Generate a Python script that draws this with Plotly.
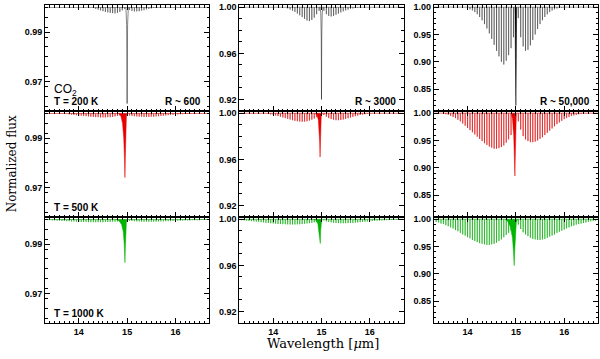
import plotly.graph_objects as go
from plotly.subplots import make_subplots


# spectral coverage of the models (micron)
wl_min = 13.3
wl_max = 16.7

# line centres of the R branch (short side) and P branch (long side)
r_branch_wl = [13.35, 13.40, 13.45, 13.50, 13.55, 13.60, 13.65, 13.70, 13.75, 13.80, 13.85,
               13.90, 13.95, 14.00, 14.05, 14.10, 14.15, 14.20, 14.25, 14.30, 14.35, 14.40,
               14.45, 14.50, 14.55, 14.60, 14.65, 14.70, 14.75, 14.80, 14.85, 14.90, 14.95]
p_branch_wl = [15.05, 15.10, 15.15, 15.20, 15.25, 15.30, 15.35, 15.40, 15.45, 15.50, 15.55,
               15.60, 15.65, 15.70, 15.75, 15.80, 15.85, 15.90, 15.95, 16.00, 16.05, 16.10,
               16.15, 16.20, 16.25, 16.30, 16.35, 16.40, 16.45, 16.50, 16.55, 16.60, 16.65]

# line absorption in percent (R branch values then P branch values)
absorb_600_200 = [0, 0, 0, 0, 0, 0, 0, 0, 0, 0, 0, 0, 0, 0, 0, 0, 0, 0, 0,
                  0.03, 0.06, 0.09, 0.12, 0.15, 0.18, 0.2, 0.22, 0.23, 0.24, 0.22, 0.18, 0.12, 0.06,
                  0.1, 0.14, 0.16, 0.16, 0.15, 0.13, 0.11, 0.08, 0.06, 0.04, 0.02, 0.01,
                  0, 0, 0, 0, 0, 0, 0, 0, 0, 0, 0, 0, 0, 0, 0, 0, 0, 0, 0, 0, 0]
absorb_600_500 = [0, 0, 0, 0, 0, 0, 0,
                  0.02, 0.03, 0.04, 0.05, 0.06, 0.07, 0.08, 0.09, 0.1, 0.11, 0.12, 0.13, 0.14,
                  0.15, 0.15, 0.16, 0.16, 0.16, 0.15, 0.15, 0.14, 0.12, 0.1, 0.08, 0.06, 0.04,
                  0.08, 0.1, 0.11, 0.12, 0.13, 0.13, 0.14, 0.14, 0.14, 0.13, 0.13, 0.12, 0.11,
                  0.1, 0.09, 0.08, 0.07, 0.06, 0.05, 0.04, 0.04, 0.03, 0.03, 0.02, 0.02, 0.01,
                  0.01, 0.01, 0, 0, 0, 0, 0]
absorb_600_1000 = [0.03, 0.03, 0.04, 0.04, 0.05, 0.05, 0.06, 0.06, 0.07, 0.07, 0.08, 0.08,
                   0.09, 0.09, 0.1, 0.1, 0.1, 0.11, 0.11, 0.11, 0.11, 0.11, 0.11, 0.11, 0.1,
                   0.1, 0.1, 0.09, 0.09, 0.08, 0.07, 0.06, 0.05,
                   0.05, 0.06, 0.07, 0.08, 0.08, 0.09, 0.09, 0.09, 0.09, 0.09, 0.09, 0.09,
                   0.08, 0.08, 0.08, 0.07, 0.07, 0.07, 0.06, 0.06, 0.05, 0.05, 0.05, 0.04,
                   0.04, 0.04, 0.03, 0.03, 0.03, 0.03, 0.02, 0.02, 0.02]

absorb_3000_200 = [0, 0, 0, 0, 0, 0, 0, 0, 0, 0, 0, 0, 0, 0, 0, 0, 0, 0,
                   0.05, 0.1, 0.2, 0.3, 0.4, 0.55, 0.7, 0.85, 1.0, 1.15, 1.2, 1.1, 0.9, 0.6, 0.3,
                   0.3, 0.6, 0.75, 0.8, 0.75, 0.65, 0.55, 0.45, 0.35, 0.27, 0.2, 0.14, 0.1,
                   0.06, 0.04, 0.02,
                   0, 0, 0, 0, 0, 0, 0, 0, 0, 0, 0, 0, 0, 0, 0, 0, 0]
absorb_3000_500 = [0, 0, 0, 0, 0, 0, 0, 0, 0, 0,
                   0.03, 0.06, 0.1, 0.14, 0.19, 0.24, 0.3, 0.36, 0.42, 0.48, 0.54, 0.6, 0.65,
                   0.69, 0.72, 0.73, 0.72, 0.69, 0.63, 0.55, 0.45, 0.33, 0.2,
                   0.15, 0.3, 0.42, 0.5, 0.56, 0.6, 0.6, 0.58, 0.54, 0.49, 0.43, 0.37, 0.31,
                   0.25, 0.2, 0.15, 0.11, 0.08, 0.05, 0.03, 0.02,
                   0, 0, 0, 0, 0, 0, 0, 0, 0, 0, 0, 0]
absorb_3000_1000 = [0.08, 0.1, 0.12, 0.14, 0.16, 0.18, 0.2, 0.22, 0.25, 0.27, 0.3, 0.32,
                    0.34, 0.36, 0.38, 0.4, 0.41, 0.42, 0.43, 0.44, 0.45, 0.45, 0.45, 0.44,
                    0.43, 0.41, 0.39, 0.36, 0.33, 0.3, 0.26, 0.22, 0.18,
                    0.1, 0.18, 0.23, 0.27, 0.3, 0.32, 0.33, 0.34, 0.34, 0.34, 0.33, 0.32,
                    0.31, 0.29, 0.27, 0.25, 0.23, 0.21, 0.19, 0.17, 0.15, 0.14, 0.12, 0.11,
                    0.1, 0.09, 0.08, 0.07, 0.06, 0.05, 0.05, 0.04, 0.04]

absorb_50000_200 = [0, 0, 0, 0, 0, 0, 0, 0, 0, 0, 0, 0, 0.1,
                    0.2, 0.4, 0.6, 0.9, 1.3, 1.8, 2.4, 3.1, 3.9, 4.8, 5.8, 6.9, 8.0, 9.0,
                    10.0, 10.5, 9.8, 8.8, 7.5, 5.5,
                    2.0, 5.5, 7.2, 8.0, 7.8, 7.0, 6.0, 5.0, 4.0, 3.1, 2.4, 1.8, 1.3, 0.9,
                    0.6, 0.4, 0.25, 0.15, 0.1, 0.05,
                    0, 0, 0, 0, 0, 0, 0, 0, 0, 0, 0, 0, 0]
absorb_50000_500 = [0, 0, 0, 0.1, 0.2, 0.3, 0.5, 0.7, 0.9, 1.2, 1.5, 1.9, 2.3, 2.7, 3.1,
                    3.5, 3.9, 4.3, 4.7, 5.1, 5.5, 5.8, 6.1, 6.3, 6.5, 6.5, 6.4, 6.2, 5.9,
                    5.4, 4.8, 4.0, 3.0,
                    1.5, 3.0, 4.2, 4.8, 5.1, 5.3, 5.3, 5.2, 5.0, 4.7, 4.4, 4.0, 3.6, 3.2,
                    2.8, 2.4, 2.0, 1.7, 1.4, 1.1, 0.9, 0.7, 0.5, 0.4, 0.3, 0.2, 0.15, 0.1,
                    0.05, 0, 0, 0, 0]
absorb_50000_1000 = [0.5, 0.6, 0.8, 0.9, 1.1, 1.3, 1.5, 1.7, 2.0, 2.2, 2.5, 2.8, 3.0, 3.3,
                     3.5, 3.8, 4.0, 4.2, 4.4, 4.5, 4.6, 4.7, 4.7, 4.6, 4.5, 4.3, 4.0, 3.7,
                     3.3, 2.9, 2.5, 2.1, 1.7,
                     1.0, 1.8, 2.4, 2.8, 3.1, 3.4, 3.6, 3.7, 3.8, 3.8, 3.7, 3.6, 3.4, 3.2,
                     3.0, 2.8, 2.5, 2.3, 2.1, 1.9, 1.7, 1.5, 1.3, 1.2, 1.0, 0.9, 0.8, 0.7,
                     0.6, 0.5, 0.4, 0.3, 0.3]

# Q branch profiles near 15 micron (wavelength, normalized flux)
q_wl_600_200 = [14.975, 14.99, 14.997, 15.0, 15.003, 15.01, 15.025]
q_fx_600_200 = [1.0, 0.993, 0.975, 0.961, 0.975, 0.993, 1.0]
q_wl_600_500 = [14.82, 14.87, 14.905, 14.93, 14.945, 14.955, 14.963, 14.972, 14.985, 15.0]
q_fx_600_500 = [1.0, 0.999, 0.996, 0.99, 0.982, 0.974, 0.982, 0.993, 0.999, 1.0]
q_wl_600_1000 = [14.77, 14.83, 14.885, 14.92, 14.94, 14.955, 14.963, 14.972, 14.985, 15.0]
q_fx_600_1000 = [1.0, 0.9995, 0.998, 0.995, 0.99, 0.9825, 0.988, 0.996, 0.999, 1.0]

q_wl_3000_200 = [14.97, 14.985, 14.995, 15.0, 15.005, 15.015, 15.03]
q_fx_3000_200 = [1.0, 0.995, 0.975, 0.92, 0.975, 0.995, 1.0]
q_wl_3000_500 = [14.87, 14.91, 14.935, 14.952, 14.962, 14.97, 14.978, 14.986, 14.995, 15.01]
q_fx_3000_500 = [1.0, 0.998, 0.994, 0.985, 0.975, 0.962, 0.975, 0.99, 0.998, 1.0]
q_wl_3000_1000 = [14.83, 14.89, 14.925, 14.948, 14.962, 14.975, 14.983, 14.992, 15.005]
q_fx_3000_1000 = [1.0, 0.999, 0.996, 0.99, 0.983, 0.979, 0.99, 0.998, 1.0]

q_wl_50000_200 = [14.98, 14.984, 14.993, 14.998, 15.0, 15.003, 15.008, 15.016]
q_fx_50000_200 = [1.0, 0.96, 0.9, 0.85, 0.82, 0.85, 0.9, 1.0]
q_wl_50000_500 = [14.90, 14.93, 14.955, 14.97, 14.98, 14.99, 15.0, 15.01]
q_fx_50000_500 = [1.0, 0.99, 0.96, 0.92, 0.885, 0.93, 0.975, 1.0]
q_wl_50000_1000 = [14.78, 14.84, 14.89, 14.93, 14.95, 14.965, 14.975, 14.99, 15.01, 15.04]
q_fx_50000_1000 = [1.0, 0.995, 0.985, 0.965, 0.94, 0.915, 0.94, 0.975, 0.995, 1.0]

temps = [200, 500, 1000]
resolutions = ["600", "3000", "50,000"]

line_wl = r_branch_wl + p_branch_wl

absorb = {
    (200, 0): absorb_600_200, (500, 0): absorb_600_500, (1000, 0): absorb_600_1000,
    (200, 1): absorb_3000_200, (500, 1): absorb_3000_500, (1000, 1): absorb_3000_1000,
    (200, 2): absorb_50000_200, (500, 2): absorb_50000_500, (1000, 2): absorb_50000_1000,
}
q_branch = {
    (200, 0): (q_wl_600_200, q_fx_600_200), (500, 0): (q_wl_600_500, q_fx_600_500),
    (1000, 0): (q_wl_600_1000, q_fx_600_1000),
    (200, 1): (q_wl_3000_200, q_fx_3000_200), (500, 1): (q_wl_3000_500, q_fx_3000_500),
    (1000, 1): (q_wl_3000_1000, q_fx_3000_1000),
    (200, 2): (q_wl_50000_200, q_fx_50000_200), (500, 2): (q_wl_50000_500, q_fx_50000_500),
    (1000, 2): (q_wl_50000_1000, q_fx_50000_1000),
}

colors = {200: "black", 500: "#e80000", 1000: "#00b400"}
hatch_colors = {200: "rgba(0,0,0,0.5)", 500: "rgba(220,0,0,0.75)", 1000: "rgba(0,170,0,0.75)"}

y_axes = [
    dict(range=[0.958, 1.001], tick0=0.97, dtick=0.02, minor=0.004),
    dict(range=[0.910, 1.002], tick0=0.92, dtick=0.04, minor=0.01),
    dict(range=[0.810, 1.004], tick0=0.85, dtick=0.05, minor=0.01),
]

fig = make_subplots(rows=3, cols=3, horizontal_spacing=0.0545, vertical_spacing=0)

for r, T in enumerate(temps):
    for c in range(3):

        xs = [wl_min]
        ys = [1.0]
        for w, a in zip(line_wl, absorb[(T, c)]):
            xs += [w, w, w]
            ys += [1.0, 1.0 - a / 100.0, 1.0]
        xs.append(wl_max)
        ys.append(1.0)

        fig.add_trace(
            go.Scatter(
                x=xs,
                y=ys,
                mode="lines",
                line=dict(color=hatch_colors[T], width=0.8),
                showlegend=False
            ),
            row=r + 1, col=c + 1
        )

        # the cold low-resolution Q branch is a thin grey line, the others are filled
        qx, qy = q_branch[(T, c)]
        thin = (T == 200 and c < 2)
        fig.add_trace(
            go.Scatter(
                x=qx,
                y=qy,
                mode="lines",
                fill=None if thin else "toself",
                fillcolor=colors[T],
                line=dict(color="rgba(0,0,0,0.6)" if thin else colors[T], width=0.8 if thin else 0.5),
                showlegend=False
            ),
            row=r + 1, col=c + 1
        )

        fig.update_xaxes(
            range=[wl_min, wl_max],
            dtick=1,
            ticks="inside",
            ticklen=5,
            tickcolor="black",
            minor=dict(ticks="inside", dtick=0.1, ticklen=2.5, tickcolor="black"),
            showline=True,
            linecolor="black",
            linewidth=1,
            mirror="allticks",
            showgrid=False,
            zeroline=False,
            showticklabels=(r == 2),
            tickfont=dict(family="Liberation Sans", size=9, color="black", weight="bold"),
            row=r + 1, col=c + 1
        )

        ya = y_axes[c]
        fig.update_yaxes(
            range=ya["range"],
            tick0=ya["tick0"],
            dtick=ya["dtick"],
            tickformat=".2f",
            ticks="inside",
            ticklen=5,
            tickcolor="black",
            minor=dict(ticks="inside", dtick=ya["minor"], ticklen=2.5, tickcolor="black"),
            showline=True,
            linecolor="black",
            linewidth=1,
            mirror="allticks",
            showgrid=False,
            zeroline=False,
            tickfont=dict(family="Liberation Sans", size=9, color="black", weight="bold"),
            row=r + 1, col=c + 1
        )

label_font = dict(family="Liberation Sans", size=10, color="black", weight="bold")

annotations = []
for r, T in enumerate(temps):
    n = r * 3 + 1
    annotations.append(dict(
        text="T = %d K" % T, xref="x%d domain" % n if n > 1 else "x domain",
        yref="y%d domain" % n if n > 1 else "y domain",
        x=0.04, y=0.085, xanchor="left", yanchor="middle", showarrow=False, font=label_font
    ))
for c, res in enumerate(resolutions):
    n = c + 1
    annotations.append(dict(
        text="R ~ " + res, xref="x%d domain" % n if n > 1 else "x domain",
        yref="y%d domain" % n if n > 1 else "y domain",
        x=0.965, y=0.085, xanchor="right", yanchor="middle", showarrow=False, font=label_font
    ))

annotations.append(dict(
    text="CO<sub>2</sub>", xref="x domain", yref="y domain", x=0.04, y=0.2,
    xanchor="left", yanchor="middle", showarrow=False,
    font=dict(family="Liberation Sans", size=12, color="black")
))
annotations.append(dict(
    text="Wavelength [<i>μ</i>m]", xref="paper", yref="paper", x=0.502, y=-0.066,
    xanchor="center", yanchor="middle", showarrow=False,
    font=dict(family="DejaVu Serif", size=13, color="black")
))
annotations.append(dict(
    text="Normalized flux", xref="paper", yref="paper", x=-0.059, y=0.5,
    xanchor="center", yanchor="middle", textangle=-90, showarrow=False,
    font=dict(family="DejaVu Serif", size=12, color="black")
))

fig.update_layout(
    width=600,
    height=359,
    margin=dict(l=45, r=2, t=5, b=36),
    paper_bgcolor="white",
    plot_bgcolor="white",
    showlegend=False,
    annotations=annotations
)

fig.write_html(
    "out.html",
    config={"displayModeBar": False},
    post_script="document.body.style.margin = '0';"
)
